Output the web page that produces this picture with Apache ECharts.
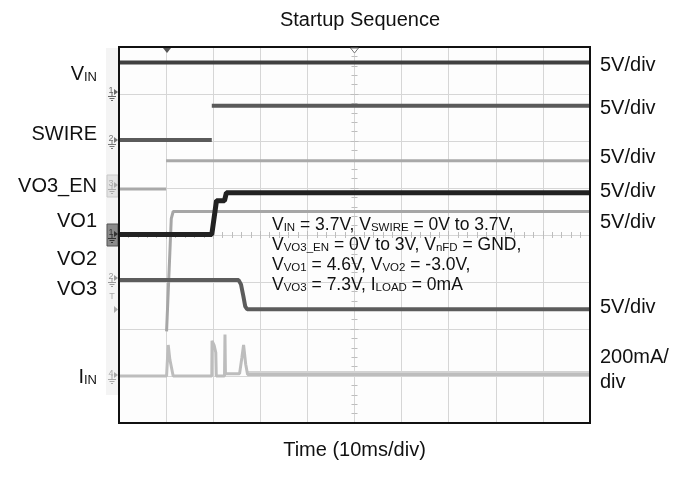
<!DOCTYPE html>
<html>
<head>
<meta charset="utf-8">
<script src="https://cdn.jsdelivr.net/npm/echarts@6/dist/echarts.min.js"></script>
<style>html,body{margin:0;padding:0;background:#fff}#c{width:691px;height:477px}</style>
</head>
<body>
<div id="c"></div>
<script>
// Time axis: ms (10 ms/div), vertical axis: divisions (0 = bottom, 8 = top)
const timeRange = [0, 100];
const divRange = [0, 8];

const vinData   = [[0,7.67],[100,7.67]];
const swireData = [[0,6.02],[19.7,6.02],[19.7,'-'],[19.7,6.75],[100,6.75]];
const vo3enData = [[0,4.98],[10.0,4.98],[10.0,'-'],[10.0,5.58],[100,5.58]];
const vo1Data   = [[0,4.01],[19.7,4.01],[20.7,4.73],[22.4,4.73],[22.8,4.90],[100,4.90]];
const vo2Data   = [[10.1,1.95],[11.1,4.35],[11.5,4.50],[100,4.50]];
const vo3Data   = [[0,3.04],[25.4,3.04],[25.9,2.95],[26.4,2.70],[26.8,2.48],[27.2,2.42],[100,2.42]];
const iinData   = [[0,1.0],[10.1,1.0],[10.45,1.66],[10.8,1.35],[11.5,1.0],[19.7,1.0],[19.75,1.75],
                   [20.2,1.65],[20.55,1.5],[20.65,1.0],[22.4,1.0],[22.5,1.88],[22.6,1.05],[25.6,1.05],
                   [26.1,1.4],[26.45,1.66],[26.9,1.25],[27.3,1.03],[100,1.03]];
const iinNoiseBand = [[27.3,1.04],[100,1.04]];

const leftLabels = [
  {t:'{m|V}{s|IN}', y:73},
  {t:'{m|SWIRE}', y:133},
  {t:'{m|VO3_EN}', y:185},
  {t:'{m|VO1}', y:220},
  {t:'{m|VO2}', y:258},
  {t:'{m|VO3}', y:288},
  {t:'{m|I}{s|IN}', y:376}
];
const rightLabels = [
  {t:'5V/div', y:65},{t:'5V/div', y:108},{t:'5V/div', y:157},{t:'5V/div', y:191},
  {t:'5V/div', y:222},{t:'5V/div', y:307},{t:'200mA/', y:357},{t:'div', y:382}
];
const noteLines = [
  '{m|V}{s|IN}{m| = 3.7V, V}{s|SWIRE}{m| = 0V to 3.7V,}',
  '{m|V}{s|VO3_EN}{m| = 0V to 3V, V}{s|nFD}{m| = GND,}',
  '{m|V}{s|VO1}{m| = 4.6V, V}{s|VO2}{m| = -3.0V,}',
  '{m|V}{s|VO3}{m| = 7.3V, I}{s|LOAD}{m| = 0mA}'
];

const FONT = "'Liberation Sans', Arial, sans-serif";
const chart = echarts.init(document.getElementById('c'));

function line(name, data, color, width, z) {
  return {name, type:'line', data, symbol:'none', connectNulls:false, z:z||2,
    lineStyle:{color, width, cap:'butt'}, animation:false, silent:true};
}

const graphics = [];
graphics.push({type:'rect', shape:{x:106,y:48,width:13,height:347}, style:{fill:'#f4f4f4'}, z:-10});
graphics.push({type:'rect', shape:{x:119,y:47,width:471,height:376}, style:{fill:null, stroke:'#111', lineWidth:2}, z:100, silent:true});
leftLabels.forEach(l => graphics.push({type:'text', x:97, y:l.y, style:{text:l.t, align:'right', verticalAlign:'middle',
  rich:{m:{fontSize:20, fontFamily:FONT, fill:'#111', lineHeight:22, verticalAlign:'bottom'},
        s:{fontSize:13, fontFamily:FONT, fill:'#111', lineHeight:14, verticalAlign:'bottom'}}}}));
rightLabels.forEach(l => graphics.push({type:'text', x:600, y:l.y, style:{text:l.t, align:'left', verticalAlign:'middle',
  font:'20px ' + FONT, fill:'#111'}}));
noteLines.forEach((t,i) => graphics.push({type:'text', x:272, y:224 + i*20, z:50, style:{text:t, align:'left', verticalAlign:'middle',
  rich:{m:{fontSize:17.5, fontFamily:FONT, fill:'#111', lineHeight:20, verticalAlign:'bottom'},
        s:{fontSize:11.5, fontFamily:FONT, fill:'#111', lineHeight:12, verticalAlign:'bottom'}}}}));

function chMarker(y, label, color, box) {
  const els = [];
  if (box) els.push({type:'rect', shape:{x:107,y:y-10,width:11,height:22}, style:{fill:box[0], stroke:box[1], lineWidth:1}});
  els.push({type:'text', x:111, y:y-1, style:{text:label, font:'9px ' + FONT, fill:color, align:'center', verticalAlign:'middle'}});
  els.push({type:'polygon', shape:{points:[[114,y-3],[118,y],[114,y+3]]}, style:{fill:color}});
  els.push({type:'polyline', shape:{points:[[112,y],[112,y+4]]}, style:{stroke:color, lineWidth:1}});
  els.push({type:'line', shape:{x1:108,y1:y+4.5,x2:116,y2:y+4.5}, style:{stroke:color, lineWidth:1}});
  els.push({type:'line', shape:{x1:109.5,y1:y+6.5,x2:114.5,y2:y+6.5}, style:{stroke:color, lineWidth:1}});
  els.push({type:'line', shape:{x1:111,y1:y+8.5,x2:113,y2:y+8.5}, style:{stroke:color, lineWidth:1}});
  return {type:'group', children:els, z:20};
}
graphics.push(chMarker(92,'1','#666'));
graphics.push(chMarker(140,'2','#777'));
graphics.push(chMarker(185,'3','#aaa',['#e2e2e2','#c8c8c8']));
graphics.push(chMarker(234,'1','#333',['#8a8a8a','#555']));
graphics.push(chMarker(278,'2','#999'));
graphics.push(chMarker(375,'4','#aaa'));
graphics.push({type:'text', x:112, y:297, style:{text:'T', font:'9px ' + FONT, fill:'#aaa', align:'center', verticalAlign:'middle'}, z:20});
graphics.push({type:'polygon', shape:{points:[[114,306],[118,309.5],[114,313]]}, style:{fill:'#aaa'}, z:20});
graphics.push({type:'polygon', shape:{points:[[163,48],[171,48],[167,53]]}, style:{fill:'#555'}, z:120});
graphics.push({type:'polygon', shape:{points:[[350.5,48],[358.5,48],[354.5,53]]}, style:{fill:'#fff', stroke:'#777', lineWidth:1}, z:120});

const tickAxisCommon = {type:'value', min:timeRange[0], max:timeRange[1], interval:10,
  axisLine:{show:false}, axisLabel:{show:false}, splitLine:{show:false},
  axisTick:{show:true, length:4, lineStyle:{color:'#bdbdbd'}},
  minorTick:{show:true, splitNumber:5, length:3, lineStyle:{color:'#bdbdbd'}}};
const yTickCommon = {type:'value', min:divRange[0], max:divRange[1], interval:1,
  axisLine:{show:false}, axisLabel:{show:false}, splitLine:{show:false},
  axisTick:{show:true, length:4, lineStyle:{color:'#bdbdbd'}},
  minorTick:{show:true, splitNumber:5, length:3, lineStyle:{color:'#bdbdbd'}}};

chart.setOption({
  animation:false,
  title:{text:'Startup Sequence', left:355, top:5, textAlign:'center',
    textStyle:{fontFamily:FONT, fontSize:20, fontWeight:'normal', color:'#111'}},
  grid:{left:119, top:47, width:471, height:376, show:true, backgroundColor:'#fdfdfd', borderColor:'#111', borderWidth:2, z:0},
  xAxis:[
    {type:'value', min:timeRange[0], max:timeRange[1], interval:10, position:'bottom',
      name:'Time (10ms/div)', nameLocation:'middle', nameGap:17,
      nameTextStyle:{fontFamily:FONT, fontSize:20, color:'#111', verticalAlign:'top'},
      axisLine:{show:false}, axisTick:{show:false}, axisLabel:{show:false},
      splitLine:{show:true, lineStyle:{color:'#d6d6d6', width:1}}},
    Object.assign({}, tickAxisCommon, {position:'bottom', offset:-188, axisTick:Object.assign({}, tickAxisCommon.axisTick, {inside:true})}),
    Object.assign({}, tickAxisCommon, {position:'bottom', offset:-188})
  ],
  yAxis:[
    {type:'value', min:divRange[0], max:divRange[1], interval:1,
      axisLine:{show:false}, axisTick:{show:false}, axisLabel:{show:false},
      splitLine:{show:true, lineStyle:{color:'#d6d6d6', width:1}}},
    Object.assign({}, yTickCommon, {position:'left', offset:-235.5, axisTick:Object.assign({}, yTickCommon.axisTick, {inside:true})}),
    Object.assign({}, yTickCommon, {position:'left', offset:-235.5})
  ],
  graphic:{elements:graphics},
  series:[
    line('IIN band', iinNoiseBand, '#d2d2d2', 6, 2),
    line('IIN', iinData, '#bdbdbd', 3, 3),
    line('VO2', vo2Data, '#a6a6a6', 3, 4),
    line('VO3_EN', vo3enData, '#a9a9a9', 3, 4),
    line('VO3', vo3Data, '#5c5c5c', 4, 5),
    line('SWIRE', swireData, '#5a5a5a', 4, 5),
    line('VIN', vinData, '#404040', 4, 5),
    line('VO1', vo1Data, '#222222', 5, 6)
  ]
});
</script>
</body>
</html>
